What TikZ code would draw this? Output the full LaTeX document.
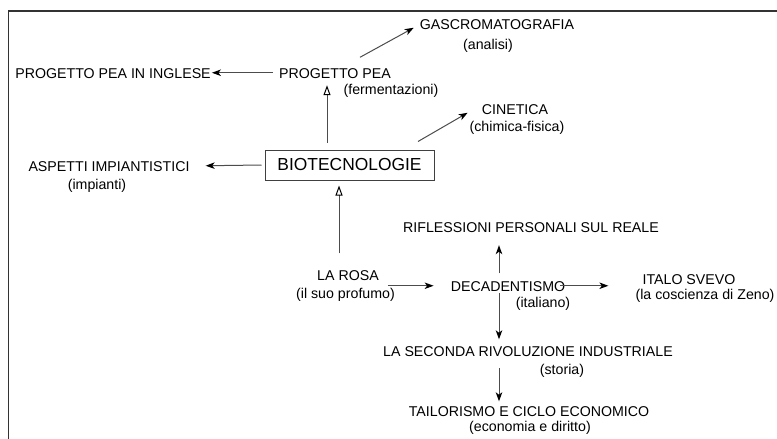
\documentclass[tikz,border=0pt]{standalone}
\usepackage{fontspec}
\setmainfont{Liberation Sans}
\usetikzlibrary{arrows.meta}
\begin{document}
\begin{tikzpicture}[x=1pt,y=-1pt,
  lbl/.style={anchor=base,inner sep=0pt,text height=10.5pt,text depth=0pt,font=\fontsize{14.2}{16}\selectfont},
  sub/.style={anchor=base,inner sep=0pt,font=\fontsize{14.2}{16}\selectfont},
  boxed/.style={draw=black!75,line width=1pt,minimum width=169pt,minimum height=30pt,inner sep=0pt,font=\fontsize{17.4}{20}\selectfont},
  conn/.style={draw=black!70,line width=1pt,-{Stealth[length=9pt,width=6.5pt,inset=2.5pt,black]}},
  openconn/.style={draw=black!70,line width=1pt,-{Triangle[open,length=10pt,width=7pt,black]}},
  frame/.style={draw=black!80,line width=1.2pt}]
\useasboundingbox (0,0) rectangle (777,439);
\draw[frame] (777,11) -- (8.5,11) -- (8.5,439);

\node[lbl] (gas) at (497,29) {GASCROMATOGRAFIA};
\node[sub] (gasSub) at (488,49) {(analisi)};
\node[lbl] (pea) at (335,78) {PROGETTO PEA};
\node[sub] (peaSub) at (391,94) {(fermentazioni)};
\node[lbl] (ingl) at (113,78) {PROGETTO PEA IN INGLESE};
\node[boxed] (bio) at (349.5,165) {BIOTECNOLOGIE};
\node[lbl] (asp) at (109,171) {ASPETTI IMPIANTISTICI};
\node[sub] (aspSub) at (97,189) {(impianti)};
\node[lbl] (cin) at (515,114) {CINETICA};
\node[sub] (cinSub) at (517,131) {(chimica-fisica)};
\node[lbl] (rosa) at (348,280) {LA ROSA};
\node[sub] (rosaSub) at (345.5,298) {(il suo profumo)};
\node[lbl] (dec) at (508,291) {DECADENTISMO};
\node[sub] (decSub) at (543,307) {(italiano)};
\node[lbl] (svevo) at (689,284) {ITALO SVEVO};
\node[sub] (svevoSub) at (705,299) {(la coscienza di Zeno)};
\node[lbl] (rifl) at (531,232) {RIFLESSIONI PERSONALI SUL REALE};
\node[lbl] (sec) at (528,356) {LA SECONDA RIVOLUZIONE INDUSTRIALE};
\node[sub] (secSub) at (562,374) {(storia)};
\node[lbl] (tail) at (529,416) {TAILORISMO E CICLO ECONOMICO};
\node[sub] (tailSub) at (530,431) {(economia e diritto)};

\draw[conn] ([xshift=25pt,yshift=10pt]pea.north) -- ([xshift=-6pt,yshift=-4pt]gas.west);
\draw[conn] ([xshift=-6pt]pea.west) -- ([xshift=1pt]ingl.east);
\draw[openconn] ([xshift=-22.5pt,yshift=7pt]bio.north) -- ([xshift=-8pt,yshift=-7pt]pea.south);
\draw[conn] ([xshift=-3pt]bio.west) -- ([xshift=16pt]asp.east);
\draw[conn] ([xshift=68.5pt,yshift=8pt]bio.north) -- ([xshift=-14pt,yshift=-4pt]cin.west);
\draw[openconn] ([xshift=-9pt,yshift=16pt]rosa.north) -- ([xshift=-10.5pt,yshift=-5pt]bio.south);
\draw[conn] ([xshift=9pt,yshift=-11pt]rosa.east) -- ([xshift=-17pt]dec.west);
\draw[conn] ([xshift=-5pt]dec.east) -- ([xshift=-34pt,yshift=-7pt]svevo.west);
\draw[conn] ([xshift=-9pt,yshift=7pt]dec.north) -- ([xshift=-32pt,yshift=-13pt]rifl.south);
\draw[conn] ([xshift=-9pt,yshift=-2pt]dec.south) -- ([xshift=-29pt,yshift=6pt]sec.north);
\draw[conn] ([xshift=-29pt,yshift=-12pt]sec.south) -- ([xshift=-30pt,yshift=4pt]tail.north);
\end{tikzpicture}
\end{document}
